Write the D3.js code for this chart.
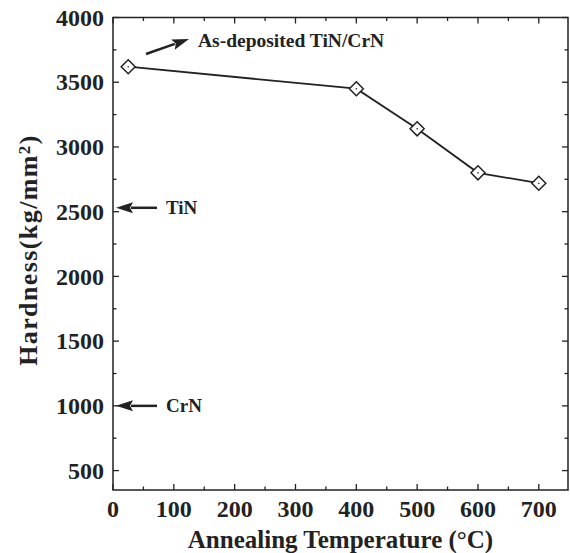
<!DOCTYPE html>
<html>
<head>
<meta charset="utf-8">
<script src="https://cdn.jsdelivr.net/npm/d3@7"></script>
<style>
  body { margin: 0; background: #fff; }
  svg text { font-family: "Liberation Serif", "Times New Roman", serif; font-weight: bold; fill: #222; }
</style>
</head>
<body>
<div class="figure"></div>
<script>
// annealing data
const temps = [25, 400, 500, 600, 700]
const hardness = [3620, 3450, 3140, 2800, 2720]

const xTicks = [0, 100, 200, 300, 400, 500, 600, 700]
const yTicks = [500, 1000, 1500, 2000, 2500, 3000, 3500, 4000]

// reference values marked with arrows
const refLabels = ["TiN", "CrN"]
const refValues = [2530, 1000]

const width = 570
const height = 553
const margin = {top: 17.5, right: 2, bottom: 63, left: 113}

const x = d3.scaleLinear().domain([0, 748]).range([margin.left, width - margin.right])
const y = d3.scaleLinear().domain([350, 4000]).range([height - margin.bottom, margin.top])

const svg = d3.select(".figure").append("svg")
    .attr("width", width)
    .attr("height", height)

const x0 = x.range()[0], x1 = x.range()[1]
const y0 = y.range()[0], y1 = y.range()[1]

// frame
svg.append("rect")
    .attr("x", x0).attr("y", y1)
    .attr("width", x1 - x0).attr("height", y0 - y1)
    .attr("fill", "none")
    .attr("stroke", "#222")
    .attr("stroke-width", 1.5)

const xMinor = d3.range(50, 748, 100)
const yMinor = d3.range(750, 4000, 500)

function ticks(vals, len, isX) {
    vals.forEach(v => {
        if (isX) {
            svg.append("line").attr("x1", x(v)).attr("x2", x(v)).attr("y1", y0).attr("y2", y0 - len)
                .attr("stroke", "#222").attr("stroke-width", 1.3)
            svg.append("line").attr("x1", x(v)).attr("x2", x(v)).attr("y1", y1).attr("y2", y1 + len)
                .attr("stroke", "#222").attr("stroke-width", 1.3)
        } else {
            svg.append("line").attr("y1", y(v)).attr("y2", y(v)).attr("x1", x0).attr("x2", x0 + len)
                .attr("stroke", "#222").attr("stroke-width", 1.3)
            svg.append("line").attr("y1", y(v)).attr("y2", y(v)).attr("x1", x1).attr("x2", x1 - len)
                .attr("stroke", "#222").attr("stroke-width", 1.3)
        }
    })
}
ticks(xTicks, 6, true)
ticks(xMinor, 3.5, true)
ticks(yTicks, 6, false)
ticks(yMinor, 3.5, false)

svg.append("g").selectAll("text")
    .data(xTicks)
    .join("text")
    .attr("x", d => x(d))
    .attr("y", y0 + 27)
    .attr("text-anchor", "middle")
    .style("font-size", "24px")
    .text(d => d)

svg.append("g").selectAll("text")
    .data(yTicks)
    .join("text")
    .attr("x", x0 - 9)
    .attr("y", d => y(d))
    .attr("dy", "0.34em")
    .attr("text-anchor", "end")
    .style("font-size", "24px")
    .text(d => d)

svg.append("text")
    .attr("x", (x0 + x1) / 2)
    .attr("y", 548)
    .attr("text-anchor", "middle")
    .style("font-size", "25px")
    .text("Annealing Temperature (°C)")

const yt = svg.append("text")
    .attr("transform", `translate(37,250) rotate(-90)`)
    .attr("text-anchor", "middle")
    .style("font-size", "26px")
    .style("letter-spacing", "1.4px")
yt.append("tspan").text("Hardness(kg/mm")
yt.append("tspan").attr("dy", "-0.4em").style("font-size", "17px").text("2")
yt.append("tspan").attr("dy", "0.27em").text(")")

// line + markers
const pts = temps.map((t, i) => [t, hardness[i]])

svg.append("path")
    .datum(pts)
    .attr("fill", "none")
    .attr("stroke", "#222")
    .attr("stroke-width", 1.8)
    .attr("d", d3.line().x(d => x(d[0])).y(d => y(d[1])))

const mk = svg.append("g").selectAll("g")
    .data(pts)
    .join("g")
    .attr("transform", d => `translate(${x(d[0])},${y(d[1])})`)

mk.append("path")
    .attr("d", "M0,-7L7,0L0,7L-7,0Z")
    .attr("fill", "#fff")
    .attr("stroke", "#222")
    .attr("stroke-width", 1.5)

mk.append("circle")
    .attr("r", 0.8)
    .attr("fill", "#222")

// arrow with a filled head drawn as a polygon
function arrow(xa, ya, xb, yb) {
    const ang = Math.atan2(yb - ya, xb - xa)
    const L = 17, W = 5.5
    const bx = xb - L * Math.cos(ang), by = yb - L * Math.sin(ang)
    const px = -Math.sin(ang) * W, py = Math.cos(ang) * W
    svg.append("line")
        .attr("x1", xa).attr("y1", ya)
        .attr("x2", bx + 2 * Math.cos(ang)).attr("y2", by + 2 * Math.sin(ang))
        .attr("stroke", "#222")
        .attr("stroke-width", 2.5)
    svg.append("path")
        .attr("d", `M${xb},${yb}L${bx + px},${by + py}L${bx + 3 * Math.cos(ang)},${by + 3 * Math.sin(ang)}L${bx - px},${by - py}Z`)
        .attr("fill", "#222")
}

refValues.forEach((v, i) => {
    arrow(157, y(v), x0 + 3, y(v))
    svg.append("text")
        .attr("x", 166)
        .attr("y", y(v))
        .attr("dy", "0.34em")
        .style("font-size", "19px")
        .text(refLabels[i])
})

arrow(146, 54, 189, 39)

svg.append("text")
    .attr("x", 198)
    .attr("y", 47)
    .style("font-size", "19.5px")
    .text("As-deposited TiN/CrN")
</script>
</body>
</html>
